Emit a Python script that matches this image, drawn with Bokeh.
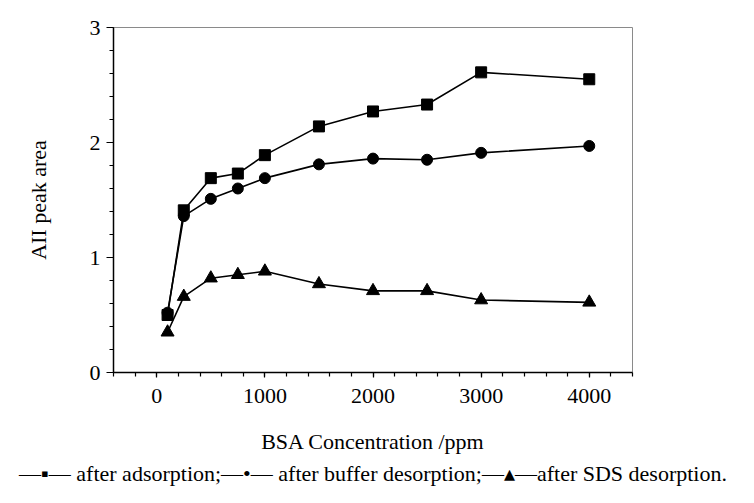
from bokeh.plotting import figure
from bokeh.models import Range1d, FixedTicker, Title
from bokeh.embed import file_html
from bokeh.resources import INLINE

# ---- data ----
conc = [100, 250, 500, 750, 1000, 1500, 2000, 2500, 3000, 4000]
after_adsorption = [0.50, 1.41, 1.69, 1.73, 1.89, 2.14, 2.27, 2.33, 2.61, 2.55]
after_buffer = [0.52, 1.36, 1.51, 1.60, 1.69, 1.81, 1.86, 1.85, 1.91, 1.97]
after_sds = [0.35, 0.66, 0.82, 0.85, 0.88, 0.77, 0.71, 0.71, 0.63, 0.61]

x_major = [0, 1000, 2000, 3000, 4000]
x_minor = list(range(-400, 4401, 200))
y_major = [0, 1, 2, 3]
y_minor = [i / 5 for i in range(0, 16)]

x_title = "BSA Concentration /ppm"
y_title = "AII peak area"
labels = ["after adsorption;", "after buffer desorption;", "after SDS desorption."]
legend_keys = ["\u2014\u25AA\u2014 ", "\u2014\u2022\u2014 ", "\u2014\u25B4\u2014"]

FONT = "Liberation Serif"
W = 738
H = 487

p = figure(width=W, height=H, output_backend="svg", toolbar_location=None,
           x_range=Range1d(-400, 4400), y_range=Range1d(0, 3),
           min_border_left=113, min_border_right=106, min_border_top=27,
           min_border_bottom=H - 372)

p.background_fill_color = "white"
p.border_fill_color = "white"
p.outline_line_color = "#8a8a8a"
p.outline_line_width = 1
p.xgrid.visible = False
p.ygrid.visible = False

# axes
p.xaxis.ticker = FixedTicker(ticks=x_major, minor_ticks=x_minor)
p.yaxis.ticker = FixedTicker(ticks=y_major, minor_ticks=y_minor)
for ax in (p.xaxis, p.yaxis):
    ax.axis_line_color = "black"
    ax.axis_line_width = 1.5
    ax.major_tick_line_color = "black"
    ax.minor_tick_line_color = "black"
    ax.major_tick_line_width = 1.2
    ax.minor_tick_line_width = 1.2
    ax.major_tick_in = 0
    ax.minor_tick_in = 0
    ax.major_label_text_font = FONT
    ax.major_label_text_font_size = "22px"
    ax.major_label_text_color = "black"
    ax.axis_label_text_font = FONT
    ax.axis_label_text_font_size = "22px"
    ax.axis_label_text_font_style = "normal"
    ax.axis_label_text_color = "black"

p.xaxis.major_tick_out = 5
p.xaxis.minor_tick_out = 4
p.yaxis.major_tick_out = 7
p.yaxis.minor_tick_out = 4
p.xaxis.major_label_standoff = 11
p.yaxis.major_label_standoff = 6
p.xaxis.axis_label = x_title
p.yaxis.axis_label = y_title
p.xaxis.axis_label_standoff = 23
p.yaxis.axis_label_standoff = 36

# series
series = [
    (after_adsorption, "square", 11),
    (after_buffer, "circle", 11),
    (after_sds, "triangle", 13),
]
for vals, marker, size in series:
    p.line(conc, vals, line_color="black", line_width=1.6)
    p.scatter(conc, vals, marker=marker, size=size,
              fill_color="black", line_color="black")

# legend line below the axis title, written as text like the original
legend_text = "".join(k + lab for k, lab in zip(legend_keys, labels))
leg = Title(text=legend_text, align="center", text_font=FONT,
            text_font_size="22px", text_font_style="normal",
            text_color="black", standoff=4)
p.add_layout(leg, "below")

open("out.html", "w").write(file_html(p, INLINE))
